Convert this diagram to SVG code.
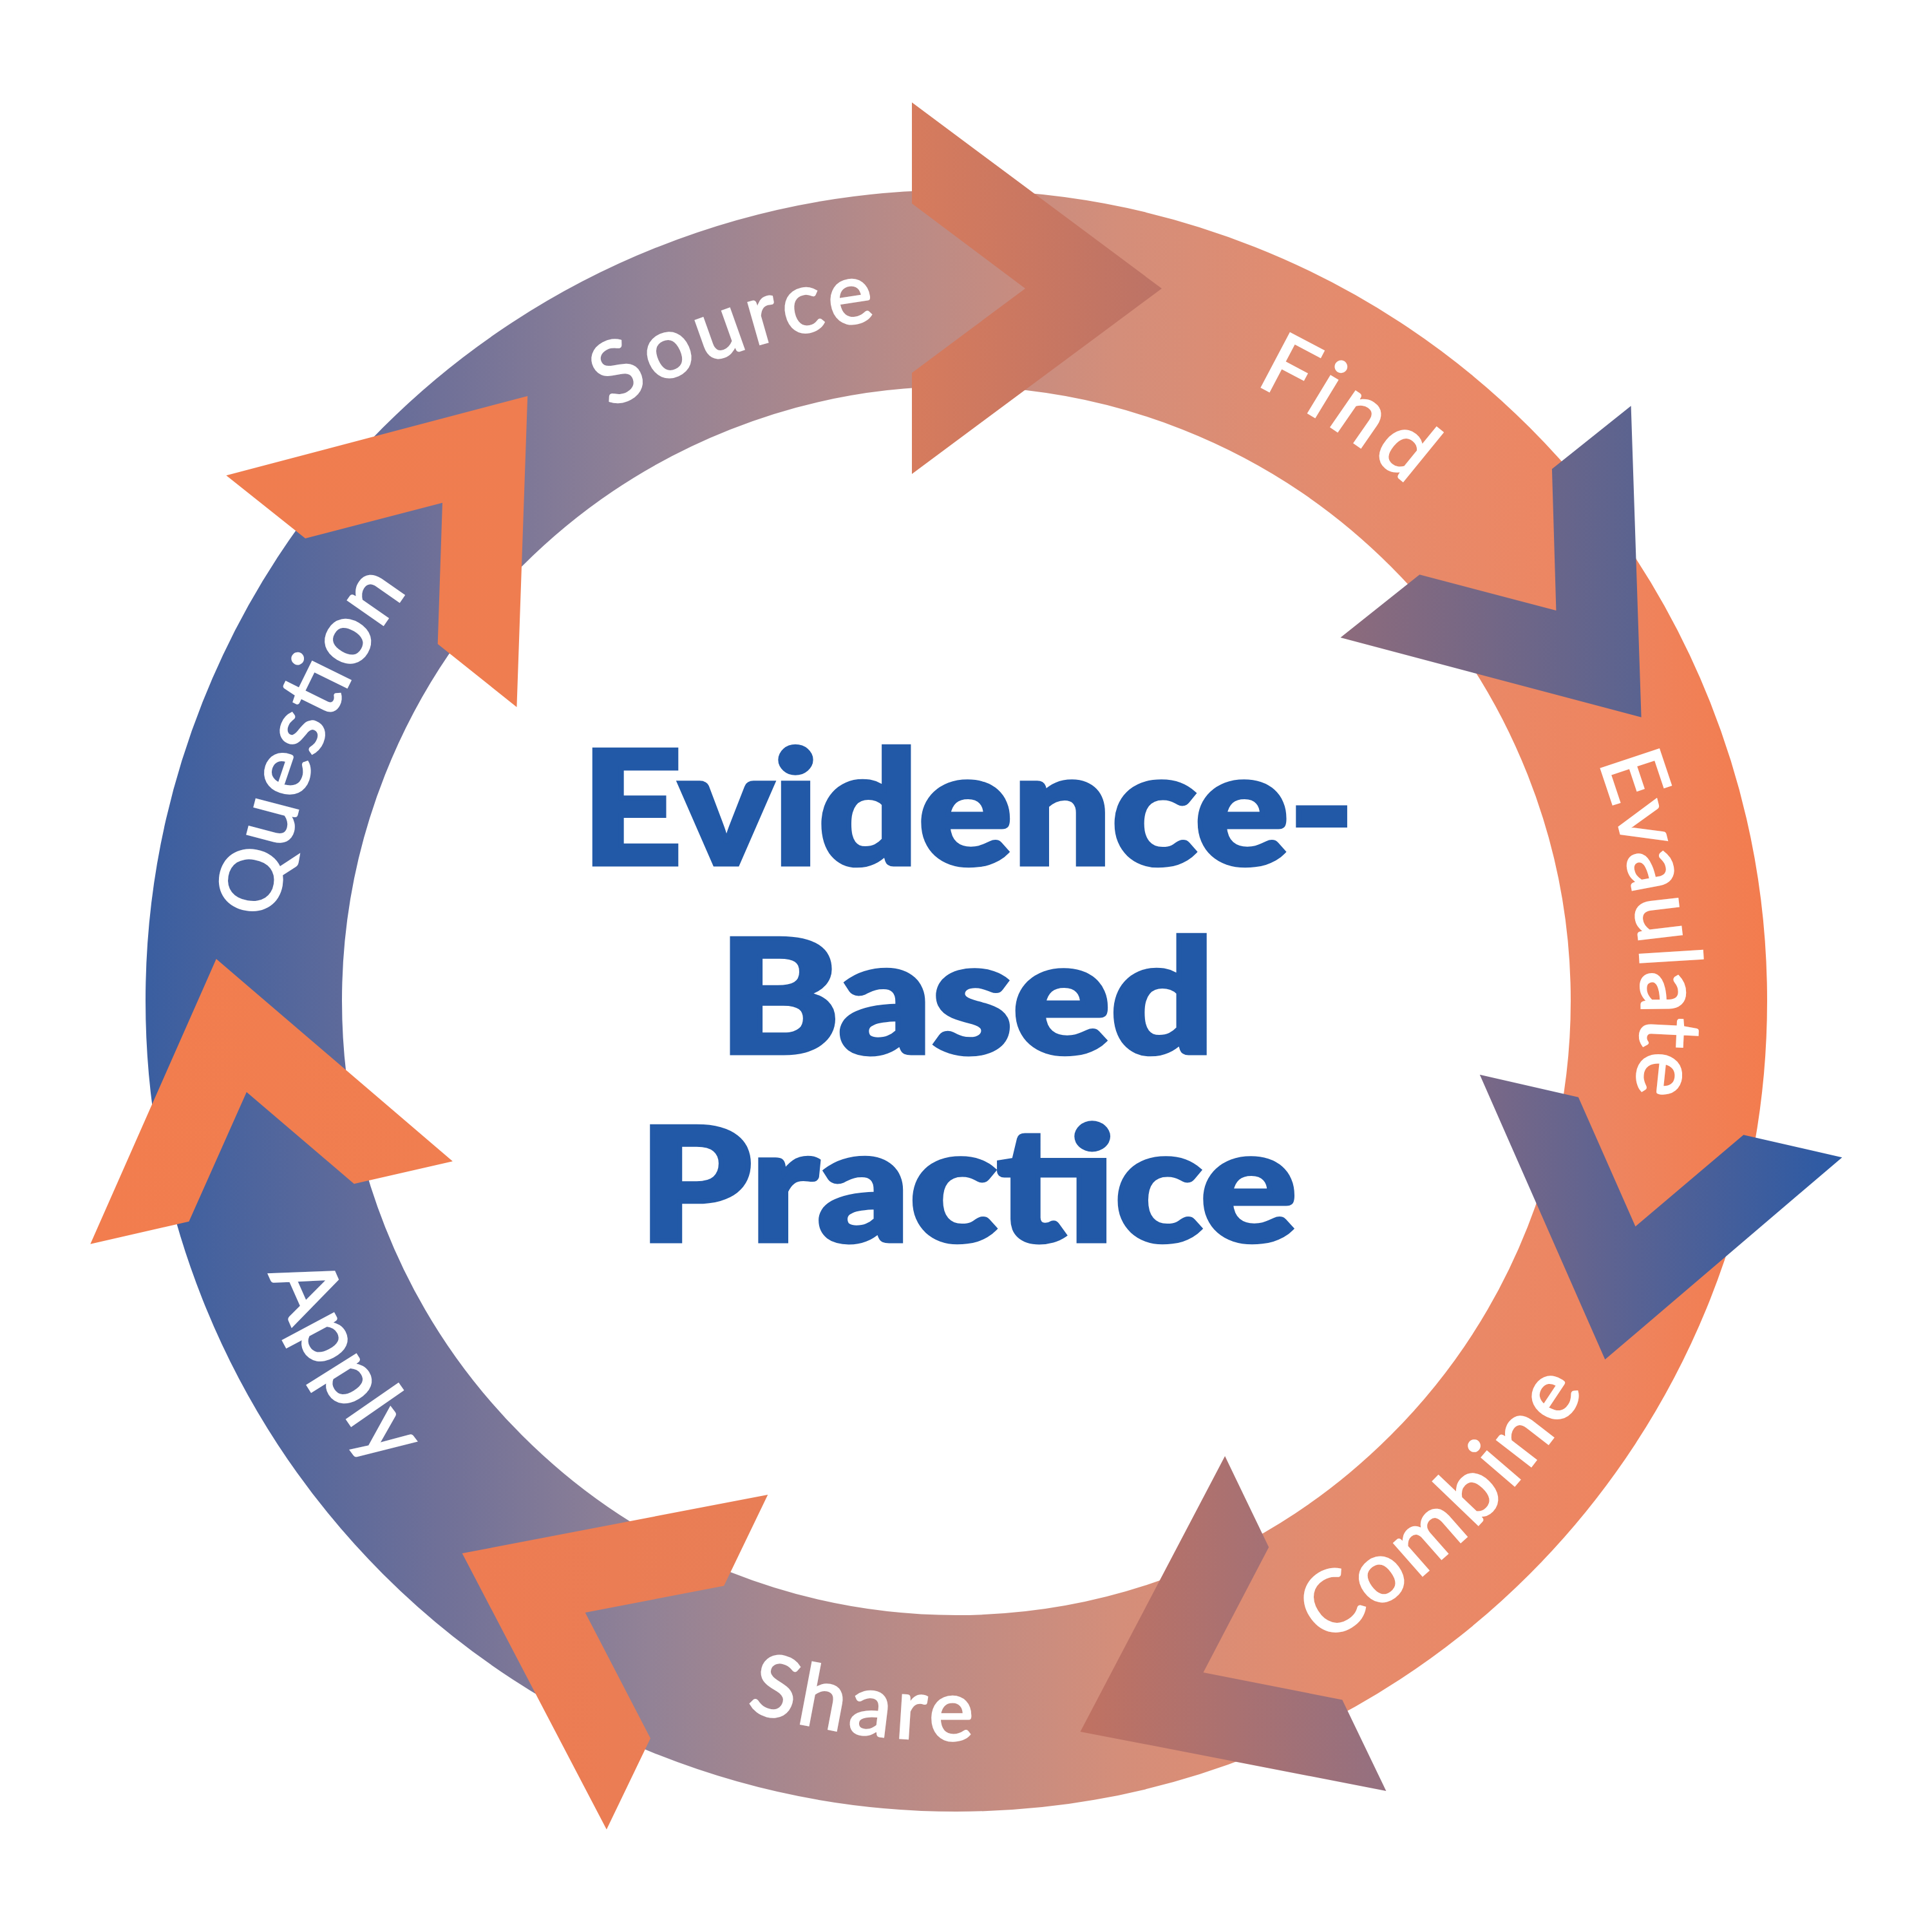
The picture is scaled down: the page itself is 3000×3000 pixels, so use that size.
<svg xmlns="http://www.w3.org/2000/svg" xmlns:xlink="http://www.w3.org/1999/xlink" width="3000" height="3000" viewBox="0 0 3000 3000">
<style>
.lbl{font-family:Lato,"Liberation Sans",sans-serif;font-size:132px;font-weight:400;font-style:normal;fill:#ffffff;stroke:#ffffff;stroke-width:3;}
.title{font-family:Lato,"Noto Sans","Liberation Sans",sans-serif;font-weight:900;font-style:normal;font-size:245px;fill:#2259a7;stroke:#2259a7;stroke-width:7;stroke-linejoin:miter;}
</style>
<defs>
<linearGradient id="ringGrad" gradientUnits="userSpaceOnUse" x1="226" y1="0" x2="2744" y2="0">
<stop offset="0" stop-color="#3a5ea0"/>
<stop offset="0.18" stop-color="#6f7098"/>
<stop offset="0.31" stop-color="#928296"/>
<stop offset="0.45" stop-color="#b68a88"/>
<stop offset="0.6" stop-color="#d48e7a"/>
<stop offset="0.75" stop-color="#e68b6c"/>
<stop offset="0.9" stop-color="#ee8560"/>
<stop offset="1" stop-color="#f37c4e"/>
</linearGradient>
<linearGradient id="g1"><stop offset="0" stop-color="#d67b5d"/><stop offset="1" stop-color="#bc7366"/></linearGradient>
<linearGradient id="g2"><stop offset="0" stop-color="#8d6b7c"/><stop offset="1" stop-color="#5a6390"/></linearGradient>
<linearGradient id="g3"><stop offset="0" stop-color="#7a6886"/><stop offset="1" stop-color="#2b5aa5"/></linearGradient>
<linearGradient id="g4"><stop offset="0" stop-color="#c07262"/><stop offset="1" stop-color="#947080"/></linearGradient>
<linearGradient id="g5"><stop offset="0" stop-color="#ee7c52"/><stop offset="1" stop-color="#e87e56"/></linearGradient>
<linearGradient id="g6"><stop offset="0" stop-color="#f27d4e"/><stop offset="1" stop-color="#f07e50"/></linearGradient>
<linearGradient id="g7"><stop offset="0" stop-color="#f07d4f"/><stop offset="1" stop-color="#ef7d50"/></linearGradient>
<path id="arcCW" d="M437.2,1369.2 A1064,1064 0 0,1 2532.8,1369.2"/>
<path id="arcCCW" d="M354.4,1753.3 A1148,1148 0 0,0 2615.6,1753.3"/>
</defs>
<rect width="3000" height="3000" fill="#ffffff"/>
<g id="ring">
<circle cx="1485" cy="1554" r="1106.5" fill="none" stroke="url(#ringGrad)" stroke-width="305"/>
</g>
<g id="connectors">
<polygon id="arrow-source-find" fill="url(#g1)" points="1416,159 1804,448 1416,736 1416,579 1592,448 1416,316"/>
<polygon id="arrow-find-evaluate" fill="url(#g2)" points="2532.6,630.3 2548.6,1113.8 2081.5,990 2204.3,892.2 2416.4,948.1 2409.9,728.2"/>
<polygon id="arrow-evaluate-combine" fill="url(#g3)" points="2860.4,1797.2 2492.3,2111.1 2297.8,1668.8 2450.9,1703.7 2539.5,1904.4 2707.3,1762.2"/>
<polygon id="arrow-combine-share" fill="url(#g4)" points="2152.4,2780.9 1677.5,2688.9 1902.1,2261.1 1970.2,2402.5 1868.5,2596.9 2084.3,2639.5"/>
<polygon id="arrow-share-apply" fill="url(#g5)" points="941.9,2840.8 717.7,2412.1 1192.3,2320.9 1124.1,2462.4 908.7,2504 1010,2699.3"/>
<polygon id="arrow-apply-question" fill="url(#g6)" points="140.3,1931.7 335.8,1489.1 702.9,1803.3 549.8,1838.2 382.9,1695.8 293.4,1896.8"/>
<polygon id="arrow-question-source" fill="url(#g7)" points="351.3,738.2 819.2,615 802.4,1097.9 679.7,1000 687,780.8 474.1,836.1"/>
</g>
<g id="node-source" transform="rotate(-18.5 1485 1554)">
<text class="lbl" text-anchor="middle"><textPath xlink:href="#arcCW" href="#arcCW" startOffset="50%" textLength="437" lengthAdjust="spacing">Source</textPath></text>
</g>
<g id="node-find" transform="rotate(33.5 1485 1554)">
<text class="lbl" text-anchor="middle"><textPath xlink:href="#arcCW" href="#arcCW" startOffset="50%" textLength="285" lengthAdjust="spacing">Find</textPath></text>
</g>
<g id="node-evaluate" transform="rotate(83.7 1485 1554)">
<text class="lbl" text-anchor="middle"><textPath xlink:href="#arcCW" href="#arcCW" startOffset="50%" textLength="525" lengthAdjust="spacing">Evaulate</textPath></text>
</g>
<g id="node-combine" transform="rotate(-43.9 1485 1554)">
<text class="lbl" text-anchor="middle"><textPath xlink:href="#arcCCW" href="#arcCCW" startOffset="50%" textLength="570" lengthAdjust="spacing">Combine</textPath></text>
</g>
<g id="node-share" transform="rotate(7.6 1485 1554)">
<text class="lbl" text-anchor="middle"><textPath xlink:href="#arcCCW" href="#arcCCW" startOffset="50%" textLength="358" lengthAdjust="spacing">Share</textPath></text>
</g>
<g id="node-apply" transform="rotate(59.6 1485 1554)">
<text class="lbl" text-anchor="middle"><textPath xlink:href="#arcCCW" href="#arcCCW" startOffset="50%" textLength="350" lengthAdjust="spacing">Apply</textPath></text>
</g>
<g id="node-question" transform="rotate(-68.2 1485 1554)">
<text class="lbl" text-anchor="middle"><textPath xlink:href="#arcCW" href="#arcCW" startOffset="50%" textLength="555" lengthAdjust="spacing">Question</textPath></text>
</g>
<g id="node-title">
<text class="title" x="1503" y="1342" text-anchor="middle" textLength="1200" lengthAdjust="spacingAndGlyphs">Evidence-</text>
<text class="title" x="1501" y="1635" text-anchor="middle" textLength="770" lengthAdjust="spacingAndGlyphs">Based</text>
<text class="title" x="1503" y="1927" text-anchor="middle" textLength="1022" lengthAdjust="spacingAndGlyphs">Practice</text>
</g>
</svg>
